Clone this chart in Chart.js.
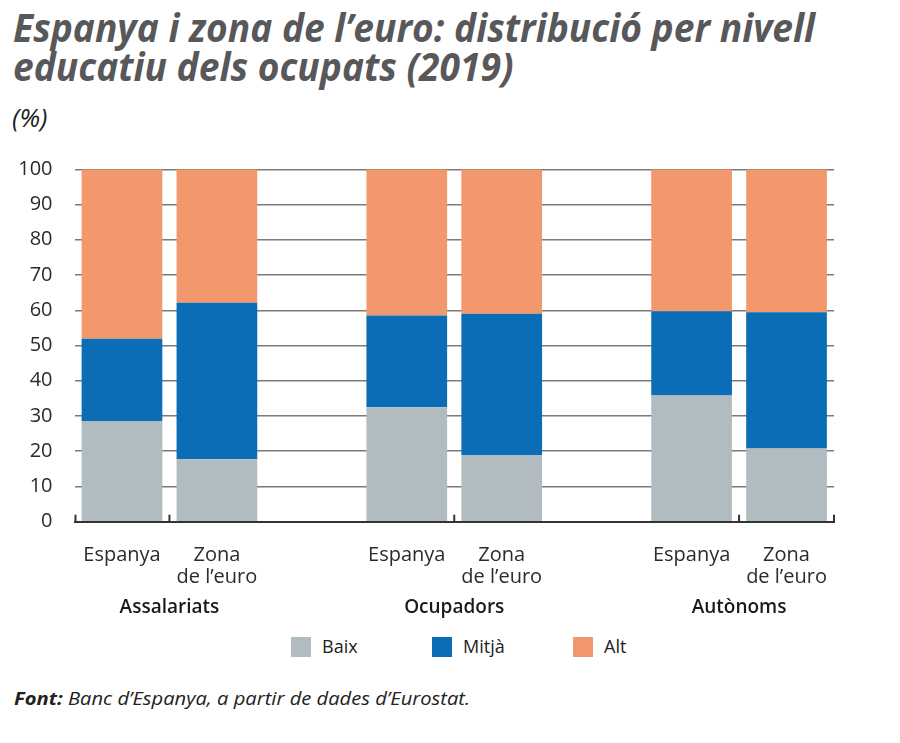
<!DOCTYPE html>
<html><head><meta charset="utf-8">
<script src="https://cdn.jsdelivr.net/npm/chart.js@4/dist/chart.umd.min.js"></script>
<style>
html,body{margin:0;padding:0;background:#fff}
body{width:900px;height:743px;position:relative;overflow:hidden;font-family:'Open Sans',sans-serif}
.tl{position:absolute;left:13px;font-family:'Open Sans';font-style:italic;font-weight:700;font-size:40px;line-height:1;color:#58585a;white-space:nowrap;transform-origin:0 0;display:inline-block}
#unit{position:absolute;left:12px;top:104px;font-family:'Open Sans';font-style:italic;font-size:26px;line-height:1;color:#222}
#wrap{position:absolute;left:0;top:140px;width:900px;height:490px}
#legend{position:absolute;left:0;top:0;width:900px}
.li{position:absolute;top:637px;height:20px}
.lb{position:absolute;left:0;top:0;width:20px;height:20px}
.lt{position:absolute;left:31px;top:-1px;font-size:18px;line-height:20px;color:#222;white-space:nowrap}
#src{position:absolute;left:14px;top:689px;font-family:'Open Sans';font-style:italic;font-size:18px;line-height:1;color:#222;white-space:nowrap;transform-origin:0 0;display:inline-block}
#src b{font-weight:700}
</style></head>
<body>
<div class="tl" id="t1" style="top:7px">Espanya i zona de l’euro: distribució per nivell</div>
<div class="tl" id="t2" style="top:46px">educatiu dels ocupats (2019)</div>
<div id="unit">(%)</div>
<div id="wrap"><canvas id="c" width="900" height="490"></canvas></div>
<div id="legend"></div>
<div id="src"><b>Font:</b> Banc d’Espanya, a partir de dades d’Eurostat.</div>
<script>
// ---- data ----
const categories = [['Espanya'], ['Zona', 'de l’euro'], '', ['Espanya'], ['Zona', 'de l’euro'], '', ['Espanya'], ['Zona', 'de l’euro']];
const groups = ['Assalariats', 'Ocupadors', 'Autònoms'];
const baix  = [28.6, 17.7, null, 32.5, 18.9, null, 35.8, 20.8];
const mitja = [23.3, 44.4, null, 26.0, 40.1, null, 23.9, 38.6];
const alt   = [48.1, 37.9, null, 41.5, 41.0, null, 40.3, 40.6];
const seriesNames = ['Baix', 'Mitjà', 'Alt'];
const seriesColors = ['#b1bcc1', '#0a6db5', '#f3976c'];
const yTicks = [0, 10, 20, 30, 40, 50, 60, 70, 80, 90, 100];

// title scaling to mimic condensed type
const t1 = document.getElementById('t1'), t2 = document.getElementById('t2');
const s = 802 / t1.getBoundingClientRect().width;
t1.style.transform = 'scaleX(' + s + ')';
t2.style.transform = 'scaleX(' + s + ')';
const src = document.getElementById('src');
src.style.transform = 'scaleX(' + (456 / src.getBoundingClientRect().width) + ')';

// legend
const lg = document.getElementById('legend');
const lefts = [291, 432, 573];
seriesNames.forEach((n, i) => {
  const d = document.createElement('div');
  d.className = 'li'; d.style.left = lefts[i] + 'px';
  d.innerHTML = '<div class="lb" style="background:' + seriesColors[i] + '"></div><div class="lt">' + n + '</div>';
  lg.appendChild(d);
});

const extras = {
  id: 'extras',
  afterDraw(chart) {
    const ctx = chart.ctx, x = chart.scales.x, ca = chart.chartArea;
    ctx.save();
    // small upward ticks
    ctx.strokeStyle = '#333'; ctx.lineWidth = 2;
    const xs = [ca.left + 1, (x.getPixelForValue(0) + x.getPixelForValue(1)) / 2,
      (x.getPixelForValue(3) + x.getPixelForValue(4)) / 2,
      (x.getPixelForValue(6) + x.getPixelForValue(7)) / 2, ca.right];
    xs.forEach(px => { ctx.beginPath(); ctx.moveTo(px, ca.bottom); ctx.lineTo(px, ca.bottom - 7); ctx.stroke(); });
    // group labels
    ctx.fillStyle = '#1a1a1a';
    ctx.font = '600 19px "Open Sans"';
    ctx.textAlign = 'center'; ctx.textBaseline = 'alphabetic';
    groups.forEach((g, i) => {
      const px = (x.getPixelForValue(i * 3) + x.getPixelForValue(i * 3 + 1)) / 2;
      ctx.fillText(g, px, ca.bottom + 91.5);
    });
    ctx.restore();
  }
};

const data = [baix, mitja, alt];
new Chart(document.getElementById('c'), {
  type: 'bar',
  data: {
    labels: categories,
    datasets: seriesNames.map((n, i) => ({
      label: n, data: data[i], backgroundColor: seriesColors[i],
      borderWidth: 0, barPercentage: 0.85, categoryPercentage: 1.0
    }))
  },
  options: {
    responsive: false, animation: false,
    devicePixelRatio: 1,
    layout: { padding: { top: 29.3, right: 66, left: 0, bottom: 0 } },
    plugins: { legend: { display: false }, tooltip: { enabled: false }, title: { display: false } },
    scales: {
      x: {
        stacked: true, z: 1,
        grid: { display: false, drawTicks: false },
        border: { display: true, color: '#333', width: 2 },
        ticks: { autoSkip: false, maxRotation: 0, minRotation: 0, padding: 22.3, color: '#2b2b2b',
          font: { family: 'Open Sans', size: 20, lineHeight: 1.1 } },
        afterFit(sc) { sc.height = 108.3; }
      },
      y: {
        stacked: true, min: 0, max: 100,
        afterBuildTicks(sc) { sc.ticks = yTicks.map(v => ({ value: v })); },
        grid: { color: '#7a7a7a', lineWidth: 1.5, drawTicks: false },
        border: { display: false },
        ticks: { padding: 22, color: '#2b2b2b', font: { family: 'Open Sans', size: 20, lineHeight: 0.3 } },
        afterFit(sc) { sc.width = 74.5; }
      }
    }
  },
  plugins: [extras]
});
</script>
</body></html>
